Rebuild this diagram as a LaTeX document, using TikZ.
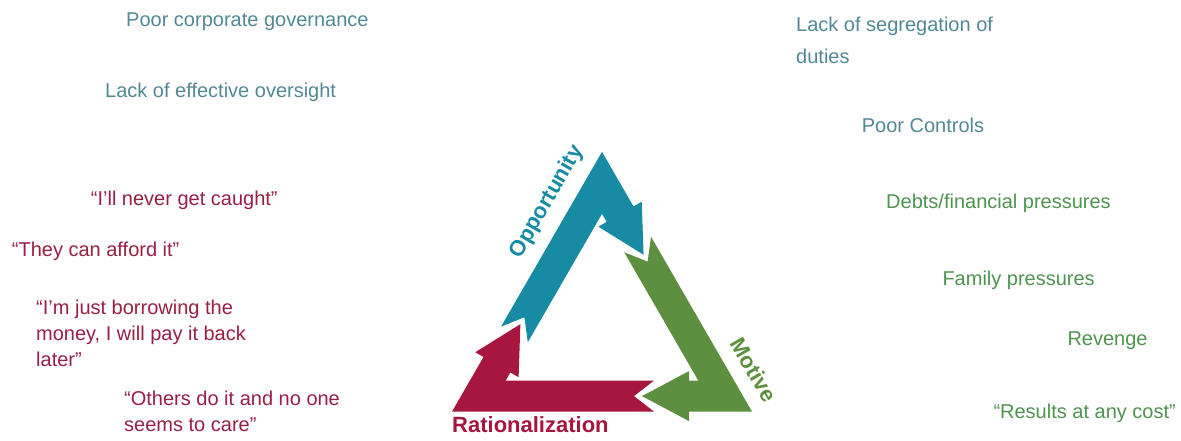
\documentclass[tikz,border=0pt]{standalone}
\usepackage{fontspec}
\setmainfont{Liberation Sans}
\usepackage{xcolor}
\usepackage{tikz}
\usetikzlibrary{positioning}

\definecolor{oppcol}{RGB}{22,139,163}
\definecolor{motcol}{RGB}{92,143,62}
\definecolor{ratcol}{RGB}{166,22,62}
\definecolor{opptxt}{RGB}{82,136,148}
\definecolor{mottxt}{RGB}{78,148,78}
\definecolor{rattxt}{RGB}{152,32,64}

\begin{document}
\begin{tikzpicture}[x=1pt, y=1pt,
    every node/.style={font=\fontsize{20}{26}\selectfont, inner sep=0pt, anchor=base west, align=left},
    oppnote/.style={text=opptxt},
    motnote/.style={text=mottxt},
    ratnote/.style={text=rattxt},
    corner/.style={font=\fontsize{22}{24}\selectfont\bfseries, anchor=center}]
    \useasboundingbox (0,0) rectangle (1181,440);

    % Triangle arrows (tail notch, corner, head)
    \fill[oppcol] (501,113.3) -- (602,288.2) -- (633.5,233.6) -- (641.7,238.4) -- (643.6,185.2)
        -- (598.4,213.3) -- (606.7,218.1) -- (602,226.2) -- (527.8,97.8) -- (524.4,122.8) -- cycle;  % Opportunity
    \fill[motcol] (651,203.3) -- (752,28.4) -- (689,28.4) -- (689,18.9) -- (642,43.9)
        -- (689,68.9) -- (689,59.4) -- (698.3,59.4) -- (624.2,187.8) -- (647.6,178.3) -- cycle;  % Motive
    \fill[ratcol] (654,28.4) -- (452,28.4) -- (483.5,83) -- (475.3,87.8) -- (520.4,115.9)
        -- (518.6,62.8) -- (510.3,67.5) -- (505.7,59.4) -- (654,59.4) -- (634,43.9) -- cycle;  % Rationalization

    % Corner labels
    \node[corner, text=oppcol, rotate=60] (opp) at (547,238) {Opportunity};
    \node[corner, text=motcol, rotate=-60] (mot) at (754,70) {Motive};
    \node[corner, text=ratcol, anchor=base west] (rat) at (452,8) {Rationalization};

    % Opportunity notes (multi-line nodes sit on their last line)
    \node[oppnote] (gov) at (126,413.3) {Poor corporate governance};
    \node[oppnote] (oversight) at (105,342.7) {Lack of effective oversight};
    \node[oppnote, font=\fontsize{20}{31.7}\selectfont] (segregation) at (796,376.7) {Lack of segregation of\\duties};
    \node[oppnote] (controls) at (861.7,307.3) {Poor Controls};

    % Rationalization notes
    \node[ratnote] (caught) at (90.7,235) {“I’ll never get caught”};
    \node[ratnote] (afford) at (11.7,183.3) {“They can afford it”};
    \node[ratnote] (borrow) at (36,74) {“I’m just borrowing the\\money, I will pay it back\\later”};
    \node[ratnote] (others) at (124,8.3) {“Others do it and no one\\seems to care”};

    % Motive notes
    \node[motnote] (debts) at (886,231.7) {Debts/financial pressures};
    \node[motnote] (family) at (942.3,155) {Family pressures};
    \node[motnote] (revenge) at (1067.3,95) {Revenge};
    \node[motnote] (results) at (993.3,21.7) {“Results at any cost”};
\end{tikzpicture}
\end{document}
